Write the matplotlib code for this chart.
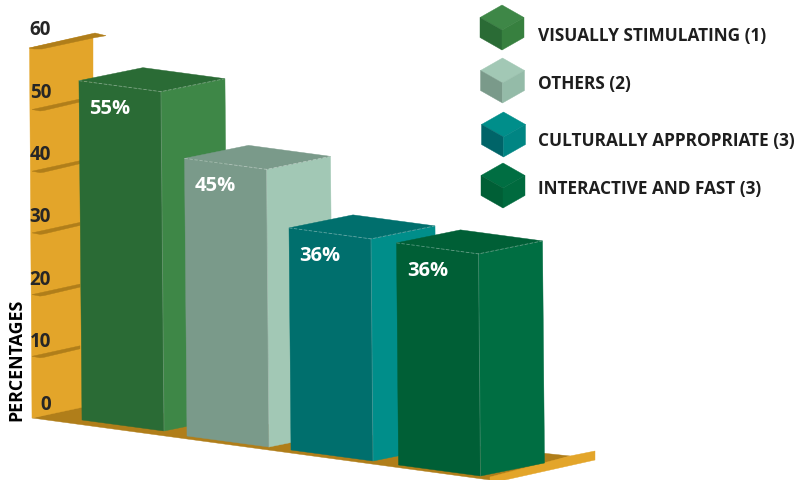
import matplotlib
matplotlib.use('Agg')
from matplotlib import pyplot as plt
from matplotlib.patches import Polygon

categories = ['VISUALLY STIMULATING', 'OTHERS', 'CULTURALLY APPROPRIATE', 'INTERACTIVE AND FAST']
ranks = [1, 2, 3, 3]
values = [55, 45, 36, 36]
axis_ticks = [0, 10, 20, 30, 40, 50, 60]

front_colors = ['#2A6B35', '#7A9A8A', '#006F6D', '#005F36']
side_colors = ['#3E8747', '#A2C8B5', '#008E8A', '#006E42']
cube_tops = ['#3E8747', '#A2C8B5', '#008E8A', '#006E42']
cube_lefts = ['#2A6B35', '#7A9A8A', '#006468', '#005F36']
cube_rights = ['#37803F', '#94BBA8', '#008583', '#006A3E']

# front-left floor corner of each bar, in pixels
bar_bases = [(82, 421), (187, 437), (291, 451), (398.5, 466)]
cube_centers = [(502, 31), (502.5, 84), (503.5, 138), (503, 189)]
legend_rows = [36, 84, 141, 189]

PX_PER_UNIT = 6.17
WALL_ZERO = 419
WALL_DARK = '#B07E1A'
WALL_LIGHT = '#E3A52A'
TEXT_DARK = '#262626'
FONT = 'Open Sans'

fig = plt.figure(figsize=(8.05, 4.81), dpi=100)
ax = fig.add_axes([0, 0, 1, 1])
ax.set_xlim(0, 805)
ax.set_ylim(481, 0)
ax.axis('off')

def poly(points, color, z):
	ax.add_patch(Polygon(points, closed=True, facecolor=color, edgecolor=color, linewidth=0.3, zorder=z))

# Floor and back wall
poly([(32, 419), (84, 406), (570, 457), (490, 481)], WALL_DARK, 1)
poly([(490, 478), (570, 457), (595, 452), (595, 461), (505, 481), (490, 481)], WALL_LIGHT, 1)
poly([(29.5, 49), (93, 35), (93, 406), (32, 419)], WALL_LIGHT, 1)
poly([(29, 49), (95, 34), (106, 36.7), (93, 39), (42, 50), (34, 50)], WALL_DARK, 2)

for v in axis_ticks:
	y = WALL_ZERO - v * PX_PER_UNIT
	if 0 < v < 60:
		poly([(32, y), (80, y - 10.5), (80, y - 7.5), (44, y + 1), (40, y + 1.5)], WALL_DARK, 2)
	ax.text(51, 405 - v * 6.25, str(v), ha='right', va='center', family=FONT, fontweight='bold',
		fontsize=13.5, color=TEXT_DARK, zorder=2)

ax.text(16, 360, 'PERCENTAGES', rotation=90, ha='center', va='center', family=FONT, fontweight='bold',
	fontsize=12.8, color='black')

# Bars, back to front; each is a front face, side face and lid
for i, (x, y) in enumerate(bar_bases):
	h = values[i] * PX_PER_UNIT
	z = 3 + i
	lean = h * 0.009
	fl = (x - lean, y - h)
	fr = (x + 82 - lean, y + 11 - h)
	br = (x + 82, y + 11)
	sr_top = (fr[0] + 64, fr[1] - 13)
	sr_bot = (br[0] + 64, br[1] - 13)
	back = (fl[0] + 64, fl[1] - 13)
	poly([fr, sr_top, sr_bot, br], side_colors[i], z)
	poly([fl, back, sr_top, fr], front_colors[i], z)
	poly([fl, fr, br, (x, y)], front_colors[i], z)
	ax.plot([fl[0], fr[0], sr_top[0]], [fl[1], fr[1], sr_top[1]], color='white', alpha=0.35, lw=0.6,
		ls=(0, (4, 2)), zorder=z)
	ax.plot([fr[0], br[0]], [fr[1], br[1]], color='white', alpha=0.2, lw=0.6, zorder=z)
	ax.text(fl[0] + 31, fl[1] + 27, f'{values[i]}%', ha='center', va='center', family=FONT,
		fontweight='bold', fontsize=14.5, color='white', zorder=z)

# Legend cubes and labels
for i, (cx, cy) in enumerate(cube_centers):
	w, d, s = 22, 12.5, 20
	poly([(cx, cy - 2 * d), (cx + w, cy - d), (cx, cy), (cx - w, cy - d)], cube_tops[i], 10)
	poly([(cx - w, cy - d), (cx, cy), (cx, cy + s), (cx - w, cy - d + s)], cube_lefts[i], 10)
	poly([(cx + w, cy - d), (cx, cy), (cx, cy + s), (cx + w, cy - d + s)], cube_rights[i], 10)
	ax.text(538, legend_rows[i], f'{categories[i]} ({ranks[i]})', ha='left', va='center', family=FONT,
		fontweight='bold', fontsize=12.4, color='#1E1E1E', zorder=10)

fig.savefig('out.png', dpi=100)
